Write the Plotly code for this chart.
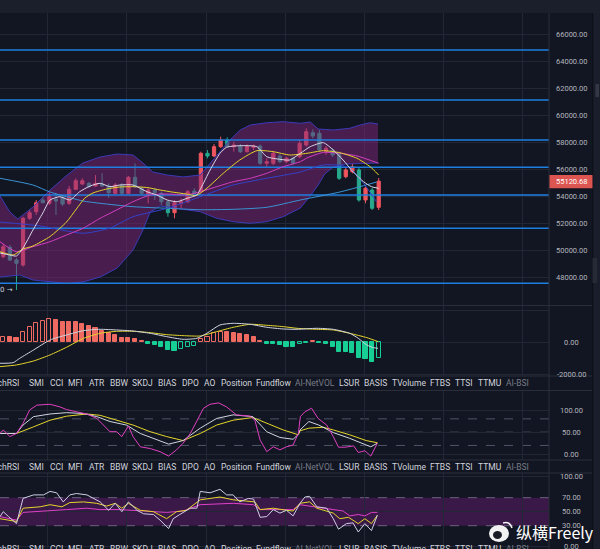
import plotly.graph_objects as go

# ---------------- data ----------------
opens = [49527, 50223, 49283, 48912, 52371, 52860, 53727, 53482, 53801, 53927,
         53482, 54519, 54912, 54964, 54764, 54912, 54764, 54223, 54838, 54223,
         55408, 54593, 54097, 54468, 54223, 53601, 52786, 53482, 53601, 54394,
         54341, 57186, 56986, 57675, 58171, 57675, 57727, 57305, 57631, 57727,
         56445, 56445, 56986, 56564, 56816, 56934, 57801, 58712, 58667, 57305,
         57430, 57186, 55453, 55823, 55949, 53727, 54468, 53186]
highs = [50468, 50394, 49431, 52490, 52986, 53727, 53971, 54268, 54245, 54045,
         54764, 55334, 55334, 55060, 55579, 55705, 54964, 54986, 54986, 55505,
         56445, 54712, 54593, 54593, 54341, 53727, 53727, 53853, 54468, 54616,
         57304, 57430, 57875, 58415, 58371, 58045, 57875, 57838, 57838, 57838,
         56816, 57379, 57134, 56934, 56934, 58171, 59038, 58964, 58912, 57727,
         57579, 57305, 56193, 56445, 56171, 54712, 54616, 55357]
lows = [49409, 49209, 47061, 48787, 52246, 52616, 53482, 53357, 52616, 53282,
        53357, 54468, 54838, 54653, 54712, 54690, 53875, 54171, 54097, 54171,
        54616, 54097, 53482, 53727, 53357, 52490, 52371, 53112, 53505, 54023,
        54223, 56816, 56912, 57579, 57579, 57305, 57208, 57245, 57430, 56320,
        56193, 56320, 56468, 56468, 56320, 56816, 57675, 58297, 57305, 57060,
        56912, 55208, 55334, 55705, 53601, 53482, 52986, 52986]
closes = [50268, 49283, 49038, 52371, 52786, 53527, 53527, 53971, 53653, 53431,
          54519, 55156, 55156, 54712, 54964, 54764, 54268, 54838, 54223, 55408,
          54712, 54223, 54468, 54268, 53601, 52786, 53527, 53601, 54341, 54171,
          57186, 56986, 57675, 58171, 57675, 57801, 57305, 57727, 57727, 56445,
          56564, 57186, 56564, 56816, 56445, 57927, 58786, 58467, 57430, 57556,
          57060, 55334, 55949, 56193, 53727, 54593, 53112, 55120.68]

levels = [64837, 61134, 58171, 56149, 54097, 51630, 47556]
price_ticks = [48000, 50000, 52000, 54000, 56000, 58000, 60000, 62000, 64000, 66000]

# moving averages (sampled at candle positions)
ma_w_x = [-0.5, 1.0, 2.0, 3.0, 4.5, 6.0, 7.1, 8.6, 10.1, 11.6, 13.2, 14.7, 16.2, 17.7, 19.7,
          21.8, 23.3, 24.9, 26.4, 27.9, 29.4, 30.0, 31.4, 32.9, 33.9, 35.9, 38.5, 40.0, 42.0,
          43.5, 45.1, 46.6, 48.6, 50.1, 51.6, 53.1, 54.7, 55.9, 57.0]
ma_w_y = [49801, 49653, 49579, 50172, 51505, 52764, 53727, 53971, 53727, 54342, 54764, 54964,
          54712, 54838, 54838, 54342, 54097, 53727, 53601, 53853, 54100, 54600, 55949, 57186,
          57631, 57749, 57675, 56934, 56741, 56689, 57186, 57675, 57971, 57430, 56689, 55823,
          55082, 54712, 54593]
ma_y_x = [-0.5, 1.5, 3.0, 4.5, 7.1, 9.6, 11.1, 12.4, 13.6, 15.7, 17.7, 19.7, 21.8, 23.8, 25.8,
          27.8, 29.3, 30.9, 33.4, 35.9, 38.5, 41.0, 43.5, 46.1, 48.6, 51.1, 53.7, 55.7, 57.0]
ma_y_y = [49897, 49653, 50097, 50319, 51024, 52097, 53060, 53875, 54245, 54541, 54690, 54712,
          54653, 54468, 54305, 54171, 54060, 54593, 55705, 56689, 57379, 57305, 57060, 57186,
          57379, 57231, 56816, 56193, 55579]
ma_m_x = [-0.5, 2.0, 4.5, 7.1, 9.6, 12.1, 14.7, 17.2, 19.7, 22.3, 24.8, 27.8, 29.9, 32.4, 34.9,
          37.5, 40.0, 42.5, 45.1, 46.1, 48.6, 51.1, 53.7, 57.0]
ma_m_y = [50638, 49897, 50268, 50638, 51135, 51631, 52371, 52986, 53601, 54097, 54171, 54097,
          54342, 54712, 55082, 55334, 55705, 56193, 56564, 56838, 57250, 57186, 56990, 56445]
ma_b_x = [-0.5, 5.6, 12.1, 16.2, 19.7, 24.9, 29.9, 34.9, 40.0, 45.1, 48.5, 51.1, 52.6, 54.9, 56.7]
ma_b_y = [52097, 51801, 51261, 51653, 52490, 53112, 53971, 54838, 55334, 55801, 56319, 56300,
          56097, 54838, 53579]
ma_c_x = [-0.5, 4.5, 7.1, 12.1, 14.7, 19.7, 24.9, 29.9, 34.9, 40.0, 45.1, 51.1, 56.7]
ma_c_y = [55334, 54838, 54319, 53653, 53482, 53231, 53112, 53008, 53038, 53186, 53727, 54319, 55060]

# band
bb_up_x = [-0.5, 1.0, 2.2, 4.5, 7.1, 9.7, 12.1, 14.7, 17.3, 19.7, 21.2, 22.7, 24.9, 27.3, 29.9,
           32.4, 34.4, 36.0, 37.5, 40.0, 42.5, 45.1, 46.6, 47.8, 50.1, 52.6, 54.2, 55.7, 56.9]
bb_up_y = [54023, 52838, 52320, 53208, 54468, 55579, 56468, 56912, 57134, 57060, 56468, 55801,
           55579, 55431, 55579, 57060, 58171, 58912, 59282, 59452, 59527, 59408, 59505, 58986,
           58912, 59038, 59282, 59452, 59356]
bb_lo_x = [-0.5, 2.5, 4.5, 7.1, 9.7, 12.1, 14.7, 17.3, 19.7, 21.2, 22.3, 23.8, 27.3, 29.9, 32.4,
           34.9, 37.5, 40.0, 42.5, 45.1, 46.6, 47.8, 48.8, 50.1, 51.9, 56.9]
bb_lo_y = [48023, 48171, 47801, 47653, 47542, 47653, 48023, 48690, 50023, 51505, 52838, 53282,
           53060, 52860, 52371, 52120, 52001, 52120, 52490, 53134, 54023, 54838, 55653, 56171,
           56393, 56468]

# MACD pane
macd_hist = [354, 312, 250, 667, 979, 1229, 1354, 1437, 1396, 1292,
             1250, 1250, 1146, 1021, 875, 729, 604, 458, 292, 250,
             187, 83, -104, -146, -271, -479, -521, -437, -312, -229,
             187, 354, 562, 667, 667, 604, 521, 458, 354, 104,
             -104, -125, -167, -271, -312, -104, -62, 104, -62, -104,
             -271, -583, -583, -687, -1000, -1062, -1208, -1000]
macd_hollow = [1, 0, 0, 1, 1, 1, 1, 1, 0, 0,
               0, 0, 0, 0, 0, 0, 0, 0, 0, 0,
               0, 0, 0, 0, 0, 0, 0, 1, 1, 1,
               1, 1, 1, 1, 0, 0, 0, 0, 0, 0,
               0, 0, 0, 0, 0, 1, 1, 1, 0, 0,
               0, 0, 0, 0, 0, 0, 0, 1]
dif_x = [-0.5, 1.5, 2.5, 4.6, 7.1, 9.6, 12.2, 14.7, 17.2, 19.7, 22.3, 24.8, 27.3, 29.4, 30.9,
         32.9, 34.9, 37.5, 40.0, 42.5, 44.6, 47.6, 50.1, 52.6, 53.9, 55.2, 56.2, 56.9]
dif_y = [-1312, -1270, -1000, -479, 146, 458, 729, 812, 771, 708, 562, 354, 187, 250, 562,
         1083, 1187, 1125, 937, 833, 812, 875, 812, 562, 250, -167, -333, -375]
dea_x = [-0.5, 2.0, 4.6, 7.1, 9.6, 12.2, 14.7, 17.2, 19.7, 22.3, 24.8, 27.3, 29.9, 32.4, 34.9,
         37.5, 40.0, 42.5, 44.6, 47.6, 50.1, 52.6, 55.2, 56.9]
dea_y = [-1520, -1416, -1166, -791, -312, 250, 562, 687, 687, 604, 479, 416, 396, 666, 937,
         1125, 1062, 979, 875, 812, 771, 562, 291, 42]
macd_ticks = [0, -2000]

# third pane
p3m_x = [-0.5, 0, 1, 2, 3, 4, 5.1, 7.1, 8.6, 9.6, 11.1, 12.7, 14.2, 15.2, 16.2, 17.2, 18, 19,
         19.7, 20.8, 22.3, 23.8, 25.1, 26.3, 27.3, 28.4, 29.4, 30.4, 31.4, 32.7, 33.9, 35.4,
         37.5, 38.2, 39, 40, 41, 42, 43, 44, 44.8, 45.1, 45.8, 46.8, 47.8, 49.1, 50.1, 50.9,
         51.9, 53.2, 53.9, 54.9, 55.8, 56.8]
p3m_y = [47, 55, 40, 47, 70, 100, 111, 113, 107, 101, 96, 91, 81, 66, 51, 51, 40, 64, 40, 17,
         13, 6, -4, 10, 25, 47, 77, 104, 113, 116, 107, 89, 86, 77, 32, 6, 17, 10, 17, 21,
         47, 85, 96, 104, 81, 66, 40, 16, 16, 19, 4, 8, -4, 25]
p3w_x = [-0.5, 2, 3, 4.6, 7.1, 9.6, 12.2, 14.2, 16.2, 18.7, 20.8, 23.3, 25.1, 27.3, 29.9, 32.4,
         34.9, 37.9, 40, 42, 44, 44.8, 45.05, 46.4, 47.9, 50.1, 52.6, 55.1, 55.8, 56.8]
p3w_y = [47, 47, 66, 85, 91, 94, 92, 85, 74, 66, 47, 32, 23, 31, 59, 81, 89, 85, 51, 38, 34, 45,
         55, 74, 66, 49, 36, 21, 17, 25]
p3y_x = [-0.5, 2, 4.6, 7.1, 9.6, 12.7, 14.7, 17.2, 19.7, 22.3, 24.8, 27.3, 29.9, 32.4, 34.9,
         37.9, 40, 42.5, 44.8, 45.05, 46.4, 48.6, 50.1, 52.6, 55.1, 56.8]
p3y_y = [47, 47, 62, 77, 86, 91, 88, 77, 66, 51, 40, 31, 47, 66, 77, 83, 70, 55, 44, 53, 59, 61,
         55, 44, 31, 26]
p3_levels = [80, 50, 20]
p3_ticks = [100, 50, 0]

# fourth pane
p4w_x = [-0.5, 0, 0.8, 2, 3, 4.6, 6.1, 7.1, 8.1, 9.1, 10.1, 11.1, 12.7, 14.7, 16, 17, 18, 19,
         20.3, 21.3, 22.8, 23.8, 25.1, 25.8, 26.8, 28.4, 29.4, 29.9, 31.4, 32.9, 33.9, 34.9,
         35.9, 37.2, 38, 39, 40, 41, 42, 43, 44, 45.05, 45.8, 46.5, 47.6, 49.1, 50.1, 50.9,
         52.1, 53.1, 53.9, 54.9, 55.9, 56.8]
p4w_y = [43, 50, 43, 33, 69, 74, 74, 79, 77, 64, 74, 76, 74, 64, 52, 62, 50, 64, 52, 47, 46, 38,
         26, 40, 46, 55, 55, 79, 77, 82, 74, 74, 64, 69, 68, 42, 43, 53, 48, 52, 44, 62, 71, 72,
         57, 55, 40, 25, 33, 34, 21, 33, 23, 45]
p4y_x = [-0.5, 2, 3, 5.6, 7.1, 8.9, 10.1, 12.2, 14.2, 15.7, 17, 18, 19, 20.8, 22.8, 24.8, 26.3,
         27.8, 29.9, 32.9, 34.9, 37.5, 38.2, 39, 41, 43, 44, 45.05, 46.5, 47.6, 50.1, 51.1,
         52.4, 53.9, 54.9, 55.9, 56.8]
p4y_y = [40, 36, 55, 57, 60, 57, 63, 64, 62, 58, 62, 55, 62, 52, 50, 40, 50, 52, 67, 71, 67, 64,
         64, 53, 55, 52, 51, 62, 64, 55, 48, 40, 42, 33, 40, 33, 45]
p4m_x = [-0.5, 2, 3, 7.1, 9.6, 12.7, 14.7, 17.7, 20.8, 24.8, 27.3, 29.9, 34.9, 38, 39, 44,
         45.05, 47.6, 50.1, 51.6, 52.6, 53.9, 54.9, 55.9, 56.8]
p4m_y = [43, 38, 49, 51, 53, 55, 53, 53, 51, 49, 51, 60, 62, 60, 53, 53, 60, 56, 53, 51, 44, 46,
         44, 49, 49]
p4_band = [30, 70]
p4_ticks = [100, 70, 50, 30, 0]

ind_names = ['StochRSI', 'SMI', 'CCI', 'MFI', 'ATR', 'BBW', 'SKDJ', 'BIAS', 'DPO', 'AO',
             'Position', 'Fundflow', 'AI-NetVOL', 'LSUR', 'BASIS', 'TVolume', 'FTBS', 'TTSI',
             'TTMU', 'AI-BSI']
ind_dim = ['AI-NetVOL', 'AI-BSI']

# ---------------- layout helpers ----------------
W, H = 600, 549
PR = 549.0


def fx(p):
    return p / PR


def fy(p):
    return 1 - p / H


BG = '#121622'
GRID = '#222735'
SEP = '#2a2e3b'
TXT = '#b2b5be'
LBL = '#d1d4dc'
RED = '#f0565f'
GRN = '#26a98d'
HRED = '#ef6a60'
HGRN = '#17cf94'

fig = go.Figure()
n = len(opens)
idx = list(range(n))

# main pane ---------------------------------------------------
fig.add_trace(go.Scatter(x=bb_up_x + bb_lo_x[::-1], y=bb_up_y + bb_lo_y[::-1], fill='toself',
                         fillcolor='rgba(128,38,122,0.5)', line=dict(width=0), mode='lines',
                         hoverinfo='skip', xaxis='x', yaxis='y'))
for bx, by in ((bb_up_x, bb_up_y), (bb_lo_x, bb_lo_y)):
    fig.add_trace(go.Scatter(x=bx, y=by, mode='lines', line=dict(color='#3b3ab8', width=1),
                             xaxis='x', yaxis='y'))
for lv in levels:
    fig.add_trace(go.Scatter(x=[-1, 90], y=[lv, lv], mode='lines',
                             line=dict(color='#1f7fe0', width=1.6), xaxis='x', yaxis='y'))
for lx, ly, col in ((ma_c_x, ma_c_y, '#3a93d4'), (ma_b_x, ma_b_y, '#3341c9'),
                    (ma_m_x, ma_m_y, '#d43fc2'), (ma_y_x, ma_y_y, '#e5d52b'),
                    (ma_w_x, ma_w_y, '#d9d9e8')):
    fig.add_trace(go.Scatter(x=lx, y=ly, mode='lines',
                             line=dict(color=col, width=1, shape='spline', smoothing=0.6),
                             xaxis='x', yaxis='y'))
fig.add_trace(go.Candlestick(x=idx, open=opens, high=highs, low=lows, close=closes,
                             increasing=dict(line=dict(color=RED, width=1), fillcolor=RED),
                             decreasing=dict(line=dict(color=GRN, width=1), fillcolor=GRN),
                             xaxis='x', yaxis='y'))

# MACD pane ---------------------------------------------------
base = [HRED if v >= 0 else HGRN for v in macd_hist]
fills = ['rgba(0,0,0,0)' if h else c for h, c in zip(macd_hollow, base)]
fig.add_trace(go.Bar(x=idx, y=macd_hist, width=0.62,
                     marker=dict(color=fills, line=dict(color=base, width=1)),
                     xaxis='x2', yaxis='y2'))
fig.add_trace(go.Scatter(x=dea_x, y=dea_y, mode='lines',
                         line=dict(color='#e5d52b', width=1, shape='spline', smoothing=0.6),
                         xaxis='x2', yaxis='y2'))
fig.add_trace(go.Scatter(x=dif_x, y=dif_y, mode='lines',
                         line=dict(color='#d0d3e0', width=1, shape='spline', smoothing=0.6),
                         xaxis='x2', yaxis='y2'))

# third pane --------------------------------------------------
for lx, ly, col in ((p3y_x, p3y_y, '#e5d52b'), (p3w_x, p3w_y, '#d0d3e0'),
                    (p3m_x, p3m_y, '#e040c0')):
    fig.add_trace(go.Scatter(x=lx, y=ly, mode='lines', line=dict(color=col, width=1),
                             xaxis='x3', yaxis='y3'))

# fourth pane -------------------------------------------------
for lx, ly, col in ((p4m_x, p4m_y, '#e040c8'), (p4y_x, p4y_y, '#e5d52b'),
                    (p4w_x, p4w_y, '#cfcfe6')):
    fig.add_trace(go.Scatter(x=lx, y=ly, mode='lines', line=dict(color=col, width=1),
                             xaxis='x4', yaxis='y4'))

# axes --------------------------------------------------------
XR = [-0.5, (PR - 3.3) / 6.586]
xcommon = dict(range=XR, showgrid=True, gridcolor=GRID, gridwidth=1, tick0=6.78, dtick=12,
               showticklabels=False, zeroline=False, showline=False, ticks='', fixedrange=True)
ycommon = dict(side='right', showticklabels=False, gridcolor=GRID, gridwidth=1,
               zeroline=False, showline=False, ticks='', fixedrange=True)

P = lambda ypx: 68541 - 74.07 * ypx
layout_axes = dict(
    xaxis=dict(xcommon, anchor='y', rangeslider=dict(visible=False)),
    xaxis2=dict(xcommon, anchor='y2', matches='x'),
    xaxis3=dict(xcommon, anchor='y3', matches='x'),
    xaxis4=dict(xcommon, anchor='y4', matches='x'),
    yaxis=dict(ycommon, anchor='x', domain=[fy(305), fy(13)], range=[P(305), P(13)],
               tickvals=price_ticks),
    yaxis2=dict(ycommon, anchor='x2', domain=[fy(376), fy(306)],
                range=[(342.3 - 376) * 62.5, (342.3 - 306) * 62.5], tickvals=[2000, 0, -2000]),
    yaxis3=dict(ycommon, anchor='x3', domain=[fy(460), fy(391)],
                range=[(454.3 - 460) / 0.443, (454.3 - 391) / 0.443], tickvals=[100, 50, 0]),
    yaxis4=dict(ycommon, anchor='x4', domain=[fy(548), fy(473)],
                range=[(546.7 - 548) / 0.7, (546.7 - 473) / 0.7], tickvals=[100, 50, 0]),
)

shapes = []
# top toolbar strip and right strip
shapes.append(dict(type='rect', xref='paper', yref='paper', x0=0, x1=fx(600), y0=fy(13), y1=1,
                   fillcolor='#1b1f2c', line=dict(width=0), layer='above'))
shapes.append(dict(type='rect', xref='paper', yref='paper', x0=fx(592.7), x1=fx(600), y0=0, y1=fy(13),
                   fillcolor='#1a1e2a', line=dict(width=0), layer='above'))
shapes.append(dict(type='line', xref='paper', yref='paper', x0=fx(592.7), x1=fx(592.7), y0=0, y1=fy(13),
                   line=dict(color='#0c0f16', width=1), layer='above'))
shapes.append(dict(type='rect', xref='paper', yref='paper', x0=fx(595.5), x1=fx(599), y0=fy(97), y1=fy(84),
                   fillcolor='#343846', line=dict(width=0), layer='above'))
shapes.append(dict(type='rect', xref='paper', yref='paper', x0=fx(592.5), x1=fx(597), y0=fy(283), y1=fy(258),
                   fillcolor='#262a37', line=dict(width=0), layer='above'))
# right axis line
shapes.append(dict(type='line', xref='paper', yref='paper', x0=1, x1=1, y0=0, y1=fy(13),
                   line=dict(color=SEP, width=1), layer='above'))
# pane separators
for sp in (305.5, 376, 390.5, 460, 473):
    shapes.append(dict(type='line', xref='paper', yref='paper', x0=0, x1=fx(592), y0=fy(sp), y1=fy(sp),
                       line=dict(color=SEP, width=1), layer='above'))
# pane 3 dashed levels
for lv in p3_levels:
    shapes.append(dict(type='line', xref='paper', yref='y3', x0=0, x1=1, y0=lv, y1=lv,
                       line=dict(color='#4f546a', width=1, dash='dash'), layer='below'))
# pane 4 band
shapes.append(dict(type='rect', xref='paper', yref='y4', x0=0, x1=1, y0=p4_band[0], y1=p4_band[1],
                   fillcolor='#3a1848', line=dict(width=0), layer='below'))
for lv in p4_band:
    shapes.append(dict(type='line', xref='paper', yref='y4', x0=0, x1=1, y0=lv, y1=lv,
                       line=dict(color='#6e6280', width=1, dash='dash'), layer='below'))
# last price box
shapes.append(dict(type='rect', xref='paper', yref='paper', x0=fx(549.5), x1=fx(592.5),
                   y0=fy(188.3), y1=fy(175), fillcolor='#dd5550', line=dict(width=0), layer='above'))
# watermark logo (approximation)
shapes.append(dict(type='circle', xref='paper', yref='paper', x0=fx(489), x1=fx(509),
                   y0=fy(542), y1=fy(525), fillcolor='#f2f2f2', line=dict(width=0), layer='above'))
shapes.append(dict(type='circle', xref='paper', yref='paper', x0=fx(493), x1=fx(502),
                   y0=fy(539), y1=fy(531), fillcolor='#1a1d26', line=dict(width=0), layer='above'))
shapes.append(dict(type='path', xref='paper', yref='paper',
                   path='M %f %f Q %f %f %f %f' % (fx(503), fy(523), fx(510), fy(521), fx(512), fy(528)),
                   line=dict(color='#f2f2f2', width=1.5), layer='above'))

ann = []
TF = dict(family='Roboto, Arial', size=7.5, color=TXT)
for v in price_ticks:
    ann.append(dict(xref='paper', yref='y', x=fx(571), y=v, text='%.2f' % v, showarrow=False,
                    xanchor='center', yanchor='middle', font=TF))
for v in macd_ticks:
    ann.append(dict(xref='paper', yref='y2', x=fx(571), y=v, text='%.2f' % v, showarrow=False,
                    xanchor='center', yanchor='middle', font=TF))
for v in p3_ticks:
    ann.append(dict(xref='paper', yref='y3', x=fx(571), y=v, text='%.2f' % v, showarrow=False,
                    xanchor='center', yanchor='middle', font=TF))
for v in p4_ticks:
    ann.append(dict(xref='paper', yref='y4', x=fx(571), y=v, text='%.2f' % v, showarrow=False,
                    xanchor='center', yanchor='middle', font=TF))
ann.append(dict(xref='paper', yref='paper', x=fx(571), y=fy(181.7), text='%.2f' % closes[-1],
                showarrow=False, xanchor='center', yanchor='middle',
                font=dict(family='Roboto, Arial', size=7.5, color='#ffffff')))
ann.append(dict(xref='paper', yref='y', x=fx(15), y=min(lows), text='%.2f →' % min(lows),
                showarrow=False, xanchor='right', yanchor='middle',
                font=dict(family='DejaVu Sans, Roboto', size=7, color=LBL)))

name_x = [20.7, 27.3, 48, 66, 87.3, 107.7, 130.3, 156.3, 179.7, 202, 219, 254.3, 292.5, 336.7,
          361.7, 390, 427.7, 453, 476, 503.7]
for row_y in (383.3, 466.7, 548.5):
    for i, (nm, xp) in enumerate(zip(ind_names, name_x)):
        ann.append(dict(xref='paper', yref='paper', x=fx(xp), y=fy(row_y), text=nm,
                        showarrow=False, xanchor='right' if i == 0 else 'left', yanchor='middle',
                        font=dict(family='Roboto, Arial', size=8.5,
                                  color='#787b86' if nm in ind_dim else LBL)))
ann.append(dict(xref='paper', yref='paper', x=fx(514), y=fy(532), text='纵横Freely',
                showarrow=False, xanchor='left', yanchor='middle',
                font=dict(family='Noto Sans CJK SC', size=16, color='#ffffff')))

fig.update_layout(width=W, height=H, margin=dict(l=0, r=51, t=0, b=0),
                  paper_bgcolor=BG, plot_bgcolor=BG, showlegend=False,
                  shapes=shapes, annotations=ann, bargap=0, hovermode=False,
                  **layout_axes)

fig.write_html("out.html", config={'displayModeBar': False},
               post_script="document.body.style.margin='0';document.body.style.background='%s';" % BG)
